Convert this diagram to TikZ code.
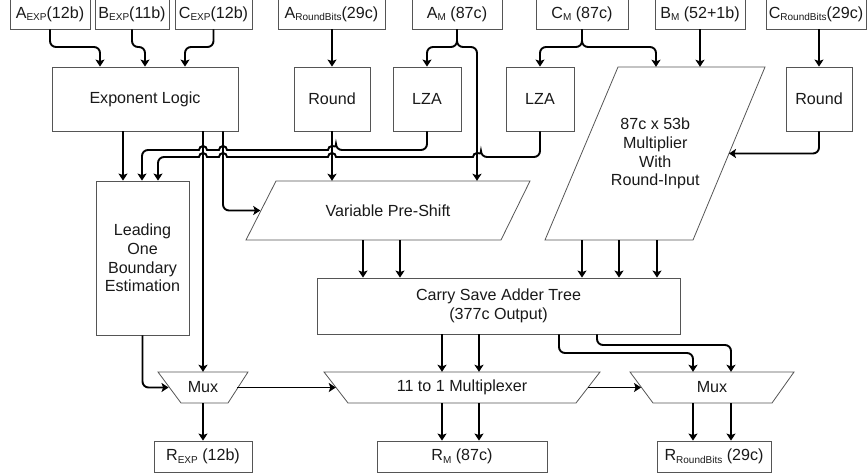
\documentclass[tikz,border=0pt]{standalone}
\usepackage{fontspec}
\setmainfont{Liberation Sans}
\usetikzlibrary{arrows.meta,calc}
\definecolor{boxgray}{RGB}{85,85,85}
\definecolor{inkblack}{RGB}{25,25,25}
\newcommand{\lo}[1]{\raisebox{-0.3ex}{\fontsize{10}{10}\selectfont #1}}

\begin{document}
\begin{tikzpicture}[x=1pt, y=-1pt,
    >={Stealth[length=7pt,width=9pt,inset=1.5pt]},
    every node/.style={font=\fontsize{16.1}{18.7}\selectfont, text=inkblack,
      inner sep=0pt, align=center},
    blk/.style={draw=boxgray, line width=0.8pt},
    shp/.style={draw=boxgray, line width=0.8pt},
    wire/.style={->, line width=1.9pt, rounded corners=6pt}]
  \useasboundingbox (0,0) rectangle (867,473);

  % Operand inputs
  \node[blk, minimum width=80pt, minimum height=30pt] (aexp) at (50,14) {A\lo{EXP}(12b)};
  \node[blk, minimum width=74pt, minimum height=30pt] (bexp) at (132,14) {B\lo{EXP}(11b)};
  \node[blk, minimum width=77pt, minimum height=30pt] (cexp) at (213.5,14) {C\lo{EXP}(12b)};
  \node[blk, minimum width=107pt, minimum height=30pt] (arb) at (331.5,14) {A\lo{RoundBits}(29c)};
  \node[blk, minimum width=90pt, minimum height=30pt] (am) at (457,14) {A\lo{M} (87c)};
  \node[blk, minimum width=92pt, minimum height=30pt] (cm) at (582,14) {C\lo{M} (87c)};
  \node[blk, minimum width=90pt, minimum height=30pt] (bm) at (700,14) {B\lo{M} (52+1b)};
  \node[blk, minimum width=100pt, minimum height=30pt] (crb) at (816,14) {C\lo{RoundBits}(29c)};

  % First stage
  \node[blk, minimum width=186pt, minimum height=64pt] (explog) at (145,99) {Exponent Logic};
  \node[blk, minimum width=76pt, minimum height=64pt] (rndA) at (332,99) {Round};
  \node[blk, minimum width=68pt, minimum height=64pt] (lzaA) at (427,99) {LZA};
  \node[blk, minimum width=68pt, minimum height=64pt] (lzaC) at (540,99) {LZA};
  \node[blk, minimum width=66pt, minimum height=64pt] (rndC) at (819,99) {Round};

  % Multiplier
  \draw[shp] (618,67) -- (765,67) -- (693,240) -- (545,240) -- cycle;
  \node[minimum width=147pt, minimum height=173pt] (mult) at (655.25,153.5)
    {87c x 53b\\Multiplier\\With\\Round-Input};

  % Shift and boundary estimation
  \node[blk, minimum width=93pt, minimum height=154pt] (lobe) at (142.5,258)
    {Leading\\One\\Boundary\\Estimation};
  \draw[shp] (276,181) -- (530,181) -- (501,240) -- (246,240) -- cycle;
  \node[minimum width=255pt, minimum height=59pt] (vps) at (388,210.5) {Variable Pre-Shift};

  % Adder tree
  \node[blk, minimum width=363pt, minimum height=56pt] (csa) at (498.5,306)
    {Carry Save Adder Tree\\(377c Output)};

  % Multiplexers
  \draw[shp] (158,372) -- (248,372) -- (228,403) -- (181,403) -- cycle;
  \node[minimum width=68.5pt, minimum height=31pt] (muxE) at (203,387.5) {Mux};
  \draw[shp] (324,372) -- (600,372) -- (576,403) -- (348,403) -- cycle;
  \node[minimum width=252pt, minimum height=31pt] (mux11) at (462,387.5) {11 to 1 Multiplexer};
  \draw[shp] (630,372) -- (794,372) -- (772,403) -- (653,403) -- cycle;
  \node[minimum width=141.5pt, minimum height=31pt] (muxR) at (712,387.5) {Mux};

  % Results
  \node[blk, minimum width=98pt, minimum height=31pt] (rexp) at (203,456.5) {R\lo{EXP} (12b)};
  \node[blk, minimum width=170pt, minimum height=31pt] (rm) at (462,456.5) {R\lo{M} (87c)};
  \node[blk, minimum width=114pt, minimum height=31pt] (rrb) at (714,456.5) {R\lo{RoundBits} (29c)};

  % Input wiring
  \draw[wire] (aexp.south) |- (100,47) -- (100,0 |- explog.north);
  \draw[wire] (bexp.south) |- (145,47) -- (145,0 |- explog.north);
  \draw[wire] (cexp.south) |- (185,47) -- (185,0 |- explog.north);
  \draw[wire] (rndA.north |- arb.south) -- (rndA.north);
  \draw[wire] (am.south) |- (lzaA.north |- 0,47) -- (lzaA.north);
  \draw[wire] (am.south) |- (477,47) -- (477,0 |- vps.north);
  \draw[wire] (cm.south) |- (lzaC.north |- 0,47) -- (lzaC.north);
  \draw[wire] (cm.south) |- (656,47) -- (656,0 |- mult.north);
  \draw[wire] (bm.south) -- (bm.south |- mult.north);
  \draw[wire] (rndC.north |- crb.south) -- (rndC.north);
  \draw[wire] (rndC.south) |- (mult.east);

  % Exponent logic outputs
  \draw[wire] (123,0 |- explog.south) -- (123,0 |- lobe.north);
  \draw[wire] (muxE.north |- explog.south) -- (muxE.north);
  \draw[wire] (223,0 |- explog.south) |- (vps.west);
  \draw[wire] (rndA.south) -- (rndA.south |- vps.north);

  % LZA buses (jumping over crossings)
  \draw[wire] (lzaA.south) |- (336,150) [sharp corners]
    arc[start angle=0, end angle=180, radius=4pt] -- (227,150)
    arc[start angle=0, end angle=180, radius=4pt] -- (207,150)
    arc[start angle=0, end angle=180, radius=4pt] [rounded corners=6pt]
    -- (142,150) -- (142,0 |- lobe.north);
  \draw[wire] (lzaC.south) |- (481,157) [sharp corners]
    arc[start angle=0, end angle=180, radius=4pt] -- (336,157)
    arc[start angle=0, end angle=180, radius=4pt] -- (227,157)
    arc[start angle=0, end angle=180, radius=4pt] -- (207,157)
    arc[start angle=0, end angle=180, radius=4pt] [rounded corners=6pt]
    -- (158,157) -- (158,0 |- lobe.north);

  % Into the adder tree
  \draw[wire] (363,0 |- vps.south) -- (363,0 |- csa.north);
  \draw[wire] (400,0 |- vps.south) -- (400,0 |- csa.north);
  \draw[wire] (582,0 |- mult.south) -- (582,0 |- csa.north);
  \draw[wire] (619,0 |- mult.south) -- (619,0 |- csa.north);
  \draw[wire] (657,0 |- mult.south) -- (657,0 |- csa.north);

  % Out of the adder tree
  \draw[wire] (442,0 |- csa.south) -- (442,0 |- mux11.north);
  \draw[wire] (479,0 |- csa.south) -- (479,0 |- mux11.north);
  \draw[wire] (559,0 |- csa.south) |- (693,353) -- (693,0 |- muxR.north);
  \draw[wire] (597,0 |- csa.south) |- (731,345) -- (731,0 |- muxR.north);

  % Select and results
  \draw[wire] (lobe.south) |- (muxE.west);
  \draw[wire] (muxE.east) -- (mux11.west);
  \draw[wire] (mux11.east) -- (muxR.west);
  \draw[wire] (muxE.south) -- (rexp.north);
  \draw[wire] (442,0 |- mux11.south) -- (442,0 |- rm.north);
  \draw[wire] (479,0 |- mux11.south) -- (479,0 |- rm.north);
  \draw[wire] (693,0 |- muxR.south) -- (693,0 |- rrb.north);
  \draw[wire] (731,0 |- muxR.south) -- (731,0 |- rrb.north);
\end{tikzpicture}
\end{document}
